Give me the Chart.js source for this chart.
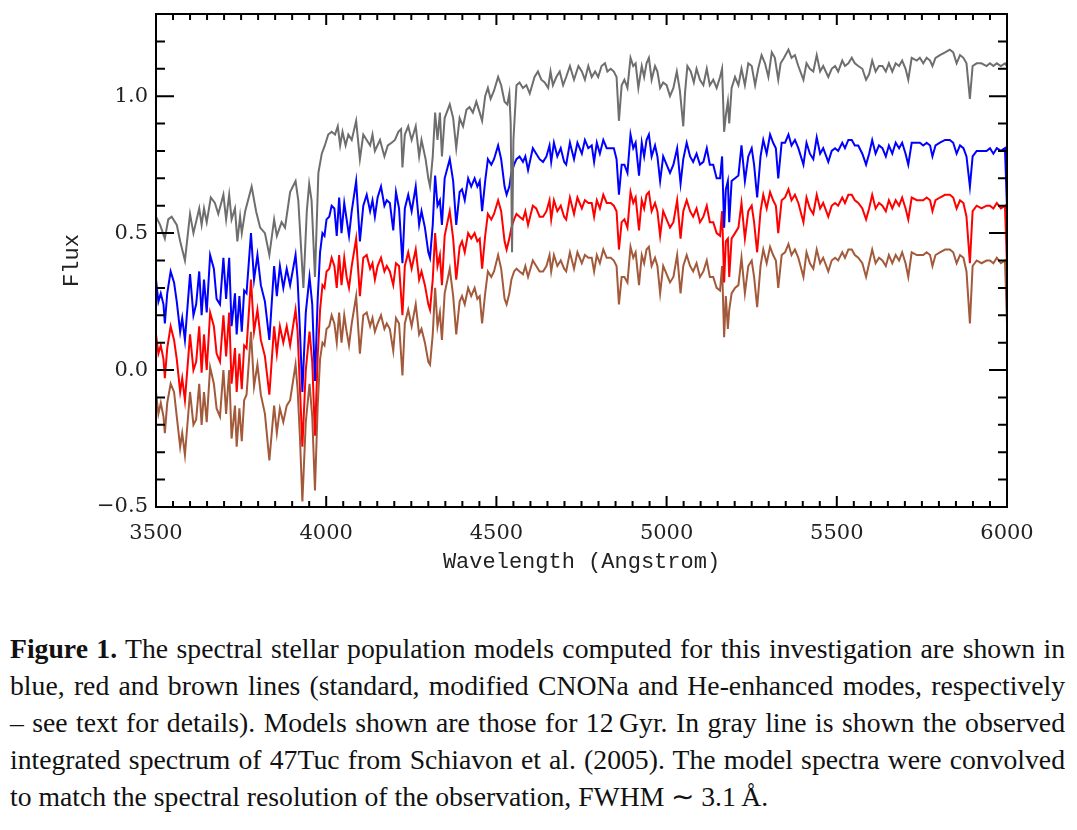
<!DOCTYPE html>
<html>
<head>
<meta charset="utf-8">
<script src="https://cdn.jsdelivr.net/npm/chart.js@4.4.0/dist/chart.umd.min.js"></script>
<style>
  body { margin: 0; background: #fff; width: 1077px; height: 830px; overflow: hidden; position: relative; }
  #plot { position: absolute; left: 0; top: 0; }
  #caption { position: absolute; left: 10px; top: 630px; width: 1055px;
             font-family: "Liberation Serif", "Times New Roman", serif; font-size: 27.7px;
             line-height: 37px; color: #111; }
  #caption div { white-space: nowrap; text-align: justify; text-align-last: justify; }
  #caption div.last { text-align: left; text-align-last: left; }
</style>
</head>
<body>
<canvas id="plot" width="1077" height="600"></canvas>
<div id="caption">
  <div><b>Figure 1.</b> The spectral stellar population models computed for this investigation are shown in</div>
  <div>blue, red and brown lines (standard, modified CNONa and He-enhanced modes, respectively</div>
  <div>– see text for details). Models shown are those for 12&#8201;Gyr. In gray line is shown the observed</div>
  <div>integrated spectrum of 47Tuc from Schiavon et al. (2005). The model spectra were convolved</div>
  <div class="last">to match the spectral resolution of the observation, FWHM &#8764; 3.1&#8201;Å.</div>
</div>
<script>
// ---- datos ----

// longitudes de onda de los modelos (Angstrom)
const waveModel = [
  3500, 3507, 3514, 3522, 3526, 3533, 3543, 3553, 3561, 3571, 3577, 3585, 3600, 3610, 3618, 3627, 3634, 3641, 3649, 3659, 3670, 3678, 3688, 3698, 3706, 3715, 3722, 3732, 3737, 3745, 3752, 3759, 3766, 3779, 3788, 3798, 3808, 3820, 3833, 3847, 3855, 3864, 3874, 3884, 3894, 3910,
  3916, 3923, 3930, 3940, 3951, 3959, 3967, 3975, 3982, 3989, 3995, 4001, 4009, 4016, 4024, 4031, 4038, 4045, 4053, 4060, 4067, 4075, 4088, 4099, 4109, 4119, 4129, 4136, 4143, 4151, 4161, 4171, 4178, 4187, 4197, 4205, 4214, 4224, 4231, 4241, 4251, 4263, 4273, 4280, 4290, 4300, 4305, 4313, 4320, 4327,
  4334, 4340, 4348, 4363, 4373, 4382, 4392, 4399, 4407, 4417, 4426, 4436, 4444, 4451, 4458, 4467, 4475, 4485, 4493, 4505, 4514, 4524, 4530, 4538, 4544, 4552, 4559, 4568, 4578, 4585, 4593, 4607, 4617, 4627, 4637, 4647, 4656, 4661, 4669, 4679, 4689, 4699, 4705,
  4716, 4728, 4738, 4751, 4760, 4770, 4780, 4787, 4795, 4804, 4814, 4824, 4836, 4845, 4853, 4860, 4868, 4876, 4885, 4894, 4902, 4909, 4919, 4927, 4934, 4941, 4948, 4956, 4966, 4973, 4981, 4990, 5000, 5010, 5020, 5031, 5041, 5049, 5059, 5069, 5078, 5088, 5098, 5108, 5118, 5127, 5137, 5147, 5157, 5163, 5169, 5174, 5180, 5184, 5191, 5201, 5211, 5220, 5230, 5240, 5250, 5257, 5266, 5276, 5284, 5294, 5304, 5313, 5321, 5328, 5338,
  5348, 5358, 5367, 5377, 5387, 5402, 5411, 5421, 5431, 5441, 5451, 5460, 5475, 5485, 5495, 5504, 5516, 5524, 5534, 5544, 5553, 5563, 5575, 5586, 5595, 5604, 5614, 5624, 5634, 5644, 5653, 5663, 5673, 5683, 5692, 5702, 5710, 5720, 5735, 5744, 5754, 5764, 5774, 5781, 5790, 5803, 5818, 5832, 5842, 5852, 5862, 5872, 5881, 5891, 5899, 5911, 5925, 5940, 5950, 5960, 5970, 5982, 5994, 6000
];

// modelo estandar (azul)
const fluxStandard = [
  0.33, 0.25, 0.28, 0.24, 0.17, 0.28, 0.36, 0.32, 0.25, 0.14, 0.19, 0.11, 0.35, 0.20, 0.24, 0.36, 0.20, 0.33, 0.21, 0.42, 0.37, 0.26, 0.24, 0.41, 0.26, 0.41, 0.16, 0.28, 0.13, 0.27, 0.14, 0.29, 0.28, 0.50, 0.33, 0.42, 0.31, 0.25, 0.11, 0.38, 0.27, 0.38, 0.30, 0.37, 0.31, 0.42,
  0.33, 0.14, -0.08, 0.21, 0.34, 0.24, -0.04, 0.26, 0.43, 0.50, 0.49, 0.55, 0.56, 0.60, 0.59, 0.49, 0.63, 0.50, 0.61, 0.55, 0.49, 0.58, 0.69, 0.47, 0.60, 0.64, 0.58, 0.62, 0.56, 0.63, 0.67, 0.60, 0.62, 0.61, 0.51, 0.65, 0.59, 0.39, 0.59, 0.64, 0.58, 0.67, 0.53, 0.58, 0.52, 0.43, 0.41, 0.53, 0.71, 0.60,
  0.62, 0.53, 0.70, 0.77, 0.69, 0.53, 0.65, 0.66, 0.62, 0.70, 0.67, 0.70, 0.67, 0.69, 0.58, 0.69, 0.77, 0.75, 0.77, 0.82, 0.77, 0.67, 0.64, 0.67, 0.72, 0.75, 0.77, 0.78, 0.76, 0.78, 0.73, 0.81, 0.79, 0.77, 0.76, 0.78, 0.82, 0.76, 0.83, 0.78, 0.81, 0.76, 0.75,
  0.83, 0.77, 0.83, 0.79, 0.84, 0.81, 0.82, 0.76, 0.83, 0.79, 0.84, 0.81, 0.81, 0.81, 0.77, 0.64, 0.75, 0.75, 0.72, 0.86, 0.81, 0.83, 0.71, 0.83, 0.78, 0.84, 0.86, 0.78, 0.82, 0.78, 0.69, 0.78, 0.75, 0.72, 0.75, 0.81, 0.68, 0.77, 0.83, 0.78, 0.76, 0.79, 0.75, 0.76, 0.81, 0.75, 0.75, 0.70, 0.70, 0.78, 0.52, 0.66, 0.69, 0.54, 0.69, 0.70, 0.71, 0.82, 0.69, 0.78, 0.81, 0.75, 0.63, 0.78, 0.84, 0.79, 0.86, 0.83, 0.81, 0.70, 0.83,
  0.83, 0.86, 0.82, 0.84, 0.81, 0.75, 0.83, 0.79, 0.77, 0.85, 0.79, 0.81, 0.76, 0.80, 0.81, 0.80, 0.83, 0.81, 0.84, 0.84, 0.82, 0.82, 0.79, 0.75, 0.79, 0.84, 0.79, 0.82, 0.81, 0.78, 0.82, 0.79, 0.83, 0.81, 0.83, 0.79, 0.75, 0.83, 0.83, 0.83, 0.82, 0.83, 0.82, 0.78, 0.82, 0.83, 0.84, 0.84, 0.83, 0.79, 0.82, 0.81, 0.78, 0.67, 0.78, 0.80, 0.80, 0.80, 0.81, 0.79, 0.81, 0.80, 0.81, 0.59
];

// CNONa modificado (rojo)
const fluxCNONa = [
  0.13, 0.06, 0.09, 0.04, -0.03, 0.08, 0.16, 0.11, 0.04, -0.08, -0.03, -0.11, 0.13, 0.00, 0.03, 0.16, -0.01, 0.13, 0.00, 0.21, 0.16, 0.06, 0.03, 0.20, 0.05, 0.21, -0.05, 0.08, -0.08, 0.06, -0.07, 0.09, 0.08, 0.33, 0.14, 0.22, 0.11, 0.05, -0.09, 0.16, 0.06, 0.16, 0.10, 0.16, 0.09, 0.22,
  0.14, -0.07, -0.28, 0.00, 0.14, 0.03, -0.24, 0.05, 0.22, 0.31, 0.30, 0.36, 0.37, 0.41, 0.38, 0.30, 0.42, 0.31, 0.41, 0.34, 0.30, 0.38, 0.48, 0.27, 0.41, 0.42, 0.37, 0.39, 0.33, 0.38, 0.41, 0.36, 0.38, 0.36, 0.31, 0.39, 0.38, 0.20, 0.38, 0.43, 0.37, 0.44, 0.33, 0.36, 0.31, 0.24, 0.22, 0.33, 0.50, 0.38,
  0.42, 0.31, 0.49, 0.58, 0.48, 0.33, 0.45, 0.47, 0.43, 0.50, 0.48, 0.50, 0.47, 0.48, 0.37, 0.49, 0.57, 0.55, 0.57, 0.62, 0.58, 0.47, 0.44, 0.48, 0.52, 0.55, 0.57, 0.56, 0.55, 0.58, 0.53, 0.60, 0.59, 0.56, 0.56, 0.58, 0.62, 0.55, 0.62, 0.58, 0.60, 0.56, 0.55,
  0.63, 0.57, 0.63, 0.59, 0.62, 0.61, 0.61, 0.56, 0.62, 0.59, 0.64, 0.61, 0.61, 0.60, 0.58, 0.44, 0.54, 0.55, 0.52, 0.65, 0.61, 0.63, 0.51, 0.62, 0.59, 0.64, 0.65, 0.58, 0.61, 0.58, 0.49, 0.58, 0.55, 0.52, 0.54, 0.62, 0.48, 0.58, 0.62, 0.58, 0.56, 0.59, 0.54, 0.56, 0.60, 0.54, 0.54, 0.50, 0.49, 0.58, 0.32, 0.47, 0.48, 0.34, 0.48, 0.50, 0.52, 0.61, 0.48, 0.58, 0.60, 0.54, 0.43, 0.58, 0.64, 0.59, 0.65, 0.62, 0.60, 0.50, 0.62,
  0.63, 0.66, 0.62, 0.64, 0.61, 0.54, 0.63, 0.59, 0.57, 0.64, 0.59, 0.61, 0.56, 0.60, 0.61, 0.60, 0.63, 0.61, 0.64, 0.64, 0.62, 0.61, 0.59, 0.55, 0.59, 0.64, 0.59, 0.61, 0.60, 0.58, 0.62, 0.59, 0.62, 0.60, 0.63, 0.59, 0.55, 0.63, 0.62, 0.62, 0.62, 0.63, 0.62, 0.58, 0.62, 0.63, 0.64, 0.64, 0.63, 0.59, 0.62, 0.61, 0.56, 0.39, 0.58, 0.60, 0.59, 0.60, 0.60, 0.59, 0.61, 0.59, 0.60, 0.38
];

// enriquecido en He (marron)
const fluxHeRich = [
  -0.08, -0.16, -0.12, -0.17, -0.23, -0.12, -0.05, -0.08, -0.17, -0.28, -0.23, -0.31, -0.08, -0.20, -0.18, -0.05, -0.20, -0.08, -0.19, 0.01, -0.05, -0.14, -0.17, 0.00, -0.16, 0.00, -0.25, -0.13, -0.28, -0.14, -0.26, -0.11, -0.09, 0.14, -0.06, 0.02, -0.09, -0.16, -0.33, -0.13, -0.23, -0.14, -0.19, -0.13, -0.11, 0.02,
  -0.07, -0.25, -0.48, -0.19, -0.05, -0.17, -0.44, -0.13, 0.04, 0.10, 0.09, 0.15, 0.16, 0.20, 0.17, 0.10, 0.21, 0.10, 0.20, 0.14, 0.09, 0.17, 0.27, 0.06, 0.20, 0.21, 0.16, 0.19, 0.14, 0.17, 0.20, 0.15, 0.17, 0.15, 0.07, 0.19, 0.17, -0.02, 0.17, 0.22, 0.16, 0.24, 0.13, 0.15, 0.10, 0.03, 0.02, 0.13, 0.30, 0.16,
  0.21, 0.11, 0.28, 0.37, 0.27, 0.13, 0.25, 0.27, 0.24, 0.30, 0.27, 0.30, 0.26, 0.27, 0.17, 0.28, 0.36, 0.34, 0.36, 0.42, 0.37, 0.26, 0.24, 0.28, 0.33, 0.36, 0.37, 0.36, 0.35, 0.38, 0.34, 0.40, 0.38, 0.36, 0.36, 0.38, 0.42, 0.36, 0.42, 0.38, 0.40, 0.37, 0.36,
  0.43, 0.37, 0.43, 0.39, 0.42, 0.41, 0.41, 0.36, 0.42, 0.39, 0.44, 0.41, 0.41, 0.40, 0.38, 0.24, 0.34, 0.34, 0.32, 0.45, 0.41, 0.43, 0.31, 0.42, 0.39, 0.44, 0.45, 0.38, 0.41, 0.38, 0.28, 0.38, 0.35, 0.32, 0.34, 0.42, 0.28, 0.38, 0.42, 0.38, 0.36, 0.39, 0.34, 0.36, 0.40, 0.34, 0.34, 0.30, 0.29, 0.38, 0.12, 0.27, 0.15, 0.22, 0.28, 0.30, 0.31, 0.41, 0.28, 0.38, 0.40, 0.34, 0.23, 0.38, 0.44, 0.39, 0.45, 0.42, 0.40, 0.30, 0.42,
  0.43, 0.46, 0.42, 0.44, 0.41, 0.34, 0.43, 0.39, 0.37, 0.44, 0.39, 0.41, 0.36, 0.40, 0.41, 0.40, 0.43, 0.41, 0.44, 0.44, 0.42, 0.41, 0.39, 0.34, 0.39, 0.44, 0.39, 0.41, 0.40, 0.38, 0.42, 0.39, 0.42, 0.40, 0.43, 0.39, 0.34, 0.43, 0.42, 0.42, 0.42, 0.43, 0.42, 0.38, 0.42, 0.43, 0.44, 0.44, 0.43, 0.39, 0.42, 0.41, 0.36, 0.17, 0.38, 0.40, 0.39, 0.40, 0.40, 0.39, 0.41, 0.39, 0.40, 0.17
];

// espectro observado de 47Tuc (gris)
const waveObs = [
  3500, 3512, 3526, 3536, 3546, 3561, 3571, 3585, 3600, 3610, 3627, 3634, 3641, 3649, 3661, 3673, 3683, 3698, 3706, 3715, 3722, 3732, 3739, 3747, 3752, 3762, 3781, 3794, 3806, 3820, 3833, 3847, 3855, 3869, 3879, 3894, 3910,
  3918, 3933, 3943, 3950, 3957, 3967, 3977, 3987, 3996, 4006, 4016, 4026, 4034, 4041, 4048, 4057, 4065, 4075, 4088, 4099, 4109, 4119, 4129, 4136, 4143, 4158, 4171, 4181, 4192, 4202, 4212, 4220, 4224, 4231, 4241, 4251, 4263, 4273, 4280, 4292, 4300, 4305, 4313, 4320, 4327, 4334,
  4340, 4348, 4363, 4373, 4382, 4392, 4402, 4412, 4421, 4431, 4441, 4451, 4458, 4467, 4475, 4483, 4493, 4505, 4514, 4524, 4532, 4538, 4542, 4546, 4550, 4559, 4568, 4578, 4588, 4598, 4612, 4622, 4632, 4642, 4652, 4659, 4666, 4676, 4686, 4696, 4705,
  4716, 4728, 4741, 4751, 4760, 4770, 4780, 4790, 4799, 4809, 4819, 4826, 4836, 4845, 4853, 4860, 4868, 4876, 4885, 4894, 4902, 4909, 4917, 4927, 4934, 4941, 4948, 4956, 4966, 4973, 4981, 4990, 5000, 5010, 5020, 5030, 5039, 5049, 5054, 5061, 5071, 5080, 5088, 5098, 5108, 5118, 5127, 5137, 5147, 5157, 5163, 5169, 5174, 5180, 5184, 5191, 5201, 5211, 5220, 5230, 5240, 5250, 5260, 5269, 5279, 5289, 5299, 5309, 5318, 5328, 5335, 5345,
  5358, 5367, 5377, 5387, 5402, 5411, 5421, 5431, 5441, 5451, 5460, 5475, 5485, 5495, 5504, 5516, 5524, 5534, 5544, 5553, 5563, 5575, 5586, 5595, 5604, 5614, 5624, 5634, 5644, 5653, 5663, 5673, 5683, 5692, 5702, 5710, 5720, 5735, 5744, 5754, 5764, 5774, 5781, 5790, 5803, 5818, 5832, 5842, 5852, 5862, 5872, 5881, 5891, 5899, 5911, 5925, 5940, 5950, 5960, 5970, 5982, 5994, 6000
];

const flux47Tuc = [
  0.56, 0.53, 0.48, 0.55, 0.56, 0.53, 0.47, 0.40, 0.57, 0.50, 0.59, 0.53, 0.59, 0.54, 0.63, 0.61, 0.57, 0.64, 0.55, 0.64, 0.55, 0.59, 0.47, 0.56, 0.50, 0.58, 0.67, 0.58, 0.52, 0.50, 0.42, 0.55, 0.49, 0.54, 0.52, 0.65, 0.69,
  0.62, 0.30, 0.58, 0.68, 0.62, 0.34, 0.72, 0.79, 0.82, 0.86, 0.87, 0.86, 0.89, 0.82, 0.87, 0.82, 0.86, 0.84, 0.91, 0.77, 0.86, 0.84, 0.82, 0.86, 0.80, 0.84, 0.78, 0.82, 0.83, 0.84, 0.87, 0.88, 0.74, 0.86, 0.89, 0.84, 0.89, 0.78, 0.84, 0.77, 0.70, 0.67, 0.78, 0.94, 0.84, 0.94,
  0.78, 0.92, 0.97, 0.92, 0.81, 0.92, 0.89, 0.95, 0.96, 0.94, 0.98, 0.94, 0.91, 1.00, 1.03, 0.99, 1.02, 1.07, 1.04, 0.98, 0.97, 1.01, 0.90, 0.43, 0.84, 1.04, 1.05, 1.03, 1.04, 1.01, 1.07, 1.09, 1.06, 1.05, 1.03, 1.09, 1.04, 1.07, 1.09, 1.04, 1.07,
  1.11, 1.06, 1.11, 1.09, 1.06, 1.11, 1.07, 1.09, 1.07, 1.11, 1.12, 1.09, 1.10, 1.09, 1.07, 0.91, 1.04, 1.06, 1.03, 1.14, 1.11, 1.12, 1.03, 1.11, 1.07, 1.12, 1.14, 1.06, 1.11, 1.09, 1.03, 1.05, 1.04, 1.00, 1.03, 1.09, 1.02, 0.89, 1.01, 1.11, 1.09, 1.05, 1.10, 1.06, 1.04, 1.10, 1.04, 1.06, 1.03, 1.07, 1.10, 0.87, 0.93, 0.98, 0.90, 1.03, 1.07, 1.04, 1.10, 1.04, 1.12, 1.11, 1.04, 1.10, 1.15, 1.12, 1.07, 1.16, 1.14, 1.06, 1.12, 1.14,
  1.17, 1.14, 1.15, 1.11, 1.06, 1.12, 1.10, 1.09, 1.15, 1.09, 1.11, 1.07, 1.10, 1.11, 1.09, 1.13, 1.11, 1.12, 1.14, 1.12, 1.11, 1.10, 1.06, 1.08, 1.13, 1.09, 1.11, 1.11, 1.09, 1.12, 1.09, 1.12, 1.11, 1.13, 1.10, 1.06, 1.14, 1.13, 1.14, 1.12, 1.14, 1.13, 1.11, 1.14, 1.15, 1.16, 1.17, 1.16, 1.12, 1.15, 1.14, 1.12, 0.99, 1.11, 1.12, 1.12, 1.11, 1.12, 1.11, 1.12, 1.11, 1.12, 1.11
];

// ejes
const xTickValues = [3500, 4000, 4500, 5000, 5500, 6000];
const xTickLabels = ['3500', '4000', '4500', '5000', '5500', '6000'];
const yTickValues = [-0.5, 0.0, 0.5, 1.0];
const yTickLabels = ['\u22120.5', '0.0', '0.5', '1.0'];

const X_MIN = 3500, X_MAX = 6000, X_MINOR = 50;
const Y_MIN = -0.5, Y_MAX = 1.3, Y_MINOR = 0.1;


function toPoints(waves, fluxes) {
  return waves.map(function (w, i) { return { x: w, y: fluxes[i] }; });
}

// marcas hacia dentro en los cuatro lados, estilo IDL
const frameTicks = {
  id: 'frameTicks',
  afterDatasetsDraw(chart) {
    const ctx = chart.ctx;
    const a = chart.chartArea;
    const xs = chart.scales.x;
    const ys = chart.scales.y;

    ctx.save();
    ctx.strokeStyle = '#000';
    ctx.lineWidth = 2;
    ctx.beginPath();

    let n = Math.round((X_MAX - X_MIN) / X_MINOR);
    for (let i = 0; i <= n; i++) {
      let w = X_MIN + i * X_MINOR;
      let px = xs.getPixelForValue(w);
      let len = (i % 10 === 0) ? 11 : 6;
      ctx.moveTo(px, a.bottom); ctx.lineTo(px, a.bottom - len);
      ctx.moveTo(px, a.top);    ctx.lineTo(px, a.top + len);
    }

    n = Math.round((Y_MAX - Y_MIN) / Y_MINOR);
    for (let i = 0; i <= n; i++) {
      let v = Y_MIN + i * Y_MINOR;
      let py = ys.getPixelForValue(v);
      let len = (i % 5 === 0) ? 18 : 9;
      ctx.moveTo(a.left, py);  ctx.lineTo(a.left + len, py);
      ctx.moveTo(a.right, py); ctx.lineTo(a.right - len, py);
    }
    ctx.stroke();

    ctx.strokeRect(a.left, a.top, a.right - a.left, a.bottom - a.top);
    ctx.restore();
  }
};

const tickFont = { family: 'DejaVu Serif', size: 21 };
const titleFont = { family: 'Liberation Mono', size: 22 };

const ctx = document.getElementById('plot').getContext('2d');

const chart = new Chart(ctx, {
  type: 'line',
  data: {
    datasets: [
      { label: '47Tuc', data: toPoints(waveObs, flux47Tuc), borderColor: '#6e6e6e' },
      { label: 'standard', data: toPoints(waveModel, fluxStandard), borderColor: '#0000ff' },
      { label: 'CNONa', data: toPoints(waveModel, fluxCNONa), borderColor: '#ff0000' },
      { label: 'He-enhanced', data: toPoints(waveModel, fluxHeRich), borderColor: '#a35a3b' }
    ]
  },
  options: {
    responsive: false,
    animation: false,
    events: [],
    devicePixelRatio: 1,
    layout: { padding: { top: 14, right: 70, left: 0, bottom: 0 } },
    elements: {
      point: { radius: 0 },
      line: { borderWidth: 2, tension: 0, fill: false }
    },
    plugins: {
      legend: { display: false },
      tooltip: { enabled: false }
    },
    scales: {
      x: {
        type: 'linear',
        min: X_MIN,
        max: X_MAX,
        grid: { display: false, drawTicks: false },
        border: { display: false },
        afterBuildTicks: function (s) { s.ticks = xTickValues.map(function (v) { return { value: v }; }); },
        afterFit: function (s) { s.height = 93; s.paddingLeft = 0; s.paddingRight = 0; },
        ticks: {
          autoSkip: false, maxRotation: 0, padding: 14,
          color: '#222', font: tickFont,
          callback: function (v, i) { return xTickLabels[i]; }
        },
        title: {
          display: true, text: 'Wavelength (Angstrom)',
          color: '#222', font: titleFont,
          padding: { top: 4, bottom: 25 }
        }
      },
      y: {
        type: 'linear',
        min: Y_MIN,
        max: Y_MAX,
        grid: { display: false, drawTicks: false },
        border: { display: false },
        afterBuildTicks: function (s) { s.ticks = yTickValues.map(function (v) { return { value: v }; }); },
        afterFit: function (s) { s.width = 156; s.paddingTop = 0; s.paddingBottom = 0; },
        ticks: {
          autoSkip: false, padding: 8,
          color: '#222', font: tickFont,
          callback: function (v, i) { return yTickLabels[i]; }
        },
        title: {
          display: true, text: 'Flux',
          color: '#222', font: titleFont,
          padding: { top: 59, bottom: 0 }
        }
      }
    }
  },
  plugins: [frameTicks]
});
</script>
</body>
</html>
